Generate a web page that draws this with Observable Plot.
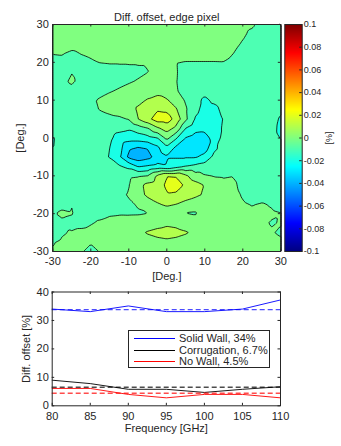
<!DOCTYPE html>
<html>
<head>
<meta charset="utf-8">
<script src="https://cdn.jsdelivr.net/npm/d3@7"></script>
<script src="https://cdn.jsdelivr.net/npm/@observablehq/plot@0.6"></script>
<style>
  body { margin: 0; background: #fff; }
  #wrap { position: relative; width: 341px; height: 446px; overflow: hidden; background: #fff;
          font-family: "Liberation Sans", Arial, Helvetica, sans-serif; }
  #wrap svg { position: absolute; left: 0; top: 0; }
  .legend { position: absolute; background: #fff; border: 1px solid #262626; box-sizing: border-box; }
  .legend .sw { position: absolute; height: 0; border-top: 1px solid; }
  .legend .lb { position: absolute; font-size: 11px; line-height: 12px; color: #262626; white-space: nowrap; }
</style>
</head>
<body>
<div id="wrap"></div>
<script>
// ---------------- data ----------------
const degTicks = [-30, -20, -10, 0, 10, 20, 30];
const gridX = [-30, -27.5, -25, -22.5, -20, -17.5, -15, -12.5, -10, -7.5, -5, -2.5, 0,
               2.5, 5, 7.5, 10, 12.5, 15, 17.5, 20, 22.5, 25, 27.5, 30];
const gridY = [30, 27.5, 25, 22.5, 20, 17.5, 15, 12.5, 10, 7.5, 5, 2.5, 0,
               -2.5, -5, -7.5, -10, -12.5, -15, -17.5, -20, -22.5, -25, -27.5, -30];
// diff. offset in units of 0.001 %, rows = gridY (top to bottom), columns = gridX
const offsetMilli = [
  [4,4,4,4,4,4,4,4,4,4,4,4,4,4,4,4,4,4,3,2.5,2,1,-3,-4,-4],
  [4,4,4,4,4,4,4,4,4,4,4,4,4,4,4,4,4,3.5,3,2.5,1,-1.5,-4,-4,-4],
  [3,3,3,3,3,3,3,3,3,3,3,3,3,3,3,3,3,3,3,1.5,-0.5,-3,-4,-4,-4],
  [0.3,0.5,-1,0.3,1,2,2.5,2.5,2.5,2.5,2.5,2.5,3,3,3,3,3,3,2,0.1,-2,-3,-4,-4,-4],
  [-1.5,-1.5,-2,-1.5,-0.7,0.2,0.5,0.5,0.5,0.5,0.5,1,1.5,0.2,-0.3,-0.3,-0.3,-0.3,-0.2,-1.5,-3,-4,-4,-4,-4],
  [-3,-2,-0.3,-2,-3,-3,-2.5,-2,-1.5,-1,-0.1,1,1.5,0.3,-2,-3,-3,-3,-2.5,-3,-3.5,-4,-4,-4,-4],
  [-3,-1.5,1,-2,-3,-3,-2.5,-1.5,-0.5,0.4,1.5,2,2,0.2,-2.5,-3.5,-4,-3.5,-3,-3,-3,-3,-3,-3,-3],
  [-3,-3,-2,-2.5,-2.5,-2,-0.5,0.6,1.5,3,4,5,4,0.5,-2.5,-4,-7,-4.5,-3.5,-3,-3,-3,-3,-3,-3],
  [-3,-3,-3,-2.5,-1,0.8,2,3,4,7,11,15,11,5,-1,-7,-12,-8,-5,-4,-3.5,-3.5,-3.5,-3.5,-3.5],
  [-3,-3,-3,-2.5,-1.5,0.3,1.5,2.5,4,12,16,19,18,11,1,-7,-14,-13,-7,-4.5,-4,-3.5,-3.5,-3.5,-4],
  [-3,-3,-3,-3,-3,-2.5,-1.5,-1,0.3,10,17,25,25,16,2,-11,-16,-17,-9,-5,-4,-4,-3.5,-4,-12],
  [-4,-3.5,-3.5,-3.5,-4,-5,-7,-8,-9,-5,-0.8,8,14,7,-10.5,-17,-18,-16,-8,-5,-4,-4,-4,-4.5,-14],
  [-11,-5,-4,-4,-5,-6,-8.5,-13,-15,-15,-13,-10.5,3,-9,-20.5,-24,-23,-17,-6,-5,-4,-4,-4,-5,-10.5],
  [-10.5,-5,-4,-4,-5,-7,-10,-16,-29,-30.5,-29,-22,-12,-22,-27,-28,-25,-12,-6,-4.5,-4,-4,-4,-4,-4],
  [-4,-4,-4,-4,-5,-7,-10.5,-18,-32,-36,-33,-26,-21,-21,-21,-21,-17,-7,-5,-4.5,-4,-4,-4,-4,-4],
  [-4,-4,-4,-4,-4.5,-5,-6,-9,-13,-21,-19,-17,-19,-14,-10,-7.5,-5.5,-4.5,-4,-4,-4,-4,-4,-4,-4],
  [-4,-4,-4,-4,-4,-4,-4.5,-3.5,-2,-1,0.5,12,19.5,19,12,4,0.5,-0.7,-1,-0.3,-2,-3,-4,-4,-4],
  [-4,-4,-4,-4,-4,-4,-3.5,-2.5,-0.5,7,13,15,22,25,18,14,9.5,5,3,1,-1.5,-3,-3.5,-4,-4],
  [-3.5,-3,-3,-3.5,-3.5,-3.5,-3,-1.5,0.5,6,12,15,19,18,16,13,8,5,3,1.5,-0.5,-2,-3,-3,-3],
  [-2.5,-1.5,-0.2,-2.5,-3,-3,-2.5,-2,-0.8,0.5,5,9,12,10,6,2,3.5,3,2.5,2,0.5,-0.3,0.5,-0.5,-2],
  [-0.5,1,0.3,-2,-2.5,-2,-0.8,-0.5,-0.6,-0.5,-0.2,1.5,3,2.5,-0.3,-0.5,2,2.5,3,3,2,1,1.5,0.8,0.2],
  [-2.5,-1,-2,-2,-0.5,1,2,2.5,3,3.5,4,6,8,7,4,3,3,3,3.5,3.5,3,2,1,-0.4,0.3],
  [-3,-0.5,0.5,1.5,2,2,2.5,3,4,7,11,13,14,13,11,7,4,3,3,3,3,2.5,2,0.5,-0.8],
  [-0.3,0.8,1.5,1.5,0.3,1.5,2.5,3,3.5,4,5,7,8,7,5,4,3.5,3,3,3,3,3,2.5,2,1],
  [0.5,1,1.5,0.3,-1,0.2,2,3,3,3,3,3,3,3,3,3,3,3,3,3,3,3,3,3,2]
];
const contourLevels = [-0.04, -0.03, -0.02, -0.01, 0, 0.01, 0.02];
const colorbarTicks = [-0.1, -0.08, -0.06, -0.04, -0.02, 0, 0.02, 0.04, 0.06, 0.08, 0.1];

const freq = [80, 85, 90, 95, 100, 105, 110];
const solidWall = [34, 33.1, 35.1, 33.1, 33.1, 34, 37.2];
const corrugation = [9, 7.8, 5.8, 5.8, 4.7, 5.8, 6.7];
const noWall = [6.1, 6.1, 4, 2.8, 4, 4, 2.8];
const seriesNames = ["Solid Wall, 34%", "Corrugation, 6.7%", "No Wall, 4.5%"];
const seriesMeans = [33.8, 6.5, 4.4];
const seriesColors = ["#0000ff", "#000000", "#ff0000"];
const freqTicks = [80, 85, 90, 95, 100, 105, 110];
const offsetTicks = [0, 10, 20, 30, 40];

// ---------------- helpers ----------------
function jet(t) {
  const c = v => Math.round(255 * Math.max(0, Math.min(1, v)));
  return `rgb(${c(1.5 - Math.abs(4 * t - 3))},${c(1.5 - Math.abs(4 * t - 2))},${c(1.5 - Math.abs(4 * t - 1))})`;
}
const W = 341, H = 446;
const font = '"Liberation Sans", Arial, Helvetica, sans-serif';
const ink = "#262626";
const tickLen = 2.5;
const wrap = document.getElementById("wrap");

const samples = [];
gridY.forEach((y, j) => gridX.forEach((x, k) => samples.push({x, y, v: offsetMilli[j][k] / 1000})));

// ---------------- top: contour map ----------------
const T = {left: 52.3, right: 280.3, top: 24, bottom: 251};
const tW = T.right - T.left, tH = T.bottom - T.top;
const topPlot = Plot.plot({
  width: W, height: H,
  marginLeft: T.left, marginRight: W - T.right, marginTop: T.top, marginBottom: H - T.bottom,
  style: {background: "white", fontFamily: font, fontSize: "11px", color: ink},
  x: {domain: [-30, 30], label: null},
  y: {domain: [-30, 30], label: null},
  color: {type: "linear", domain: [-0.1, 0.1], interpolate: jet},
  marks: [
    Plot.contour(samples, {x: "x", y: "y", fill: "v", interpolate: "barycentric",
      thresholds: contourLevels, stroke: "#000", strokeWidth: 0.8, strokeLinejoin: "round"}),
    Plot.frame({stroke: ink}),
    Plot.tickX(degTicks, {x: d => d, insetTop: tH - tickLen, stroke: ink}),
    Plot.tickX(degTicks, {x: d => d, insetBottom: tH - tickLen, stroke: ink}),
    Plot.tickY(degTicks, {y: d => d, insetRight: tW - tickLen, stroke: ink}),
    Plot.tickY(degTicks, {y: d => d, insetLeft: tW - tickLen, stroke: ink}),
    Plot.axisX(degTicks, {anchor: "bottom", tickSize: 0, tickPadding: 5.5, tickFormat: d => String(d), label: null, fill: ink}),
    Plot.axisY(degTicks, {anchor: "left", tickSize: 0, tickPadding: 4, tickFormat: d => String(d), label: null, fill: ink}),
    Plot.text(["Diff. offset, edge pixel"], {text: d => d, frameAnchor: "top", textAnchor: "middle", lineAnchor: "middle", dy: -7, fill: ink}),
    Plot.text(["[Deg.]"], {text: d => d, frameAnchor: "bottom", textAnchor: "middle", lineAnchor: "middle", dy: 25, fill: ink}),
    Plot.text(["[Deg.]"], {text: d => d, frameAnchor: "left", textAnchor: "middle", lineAnchor: "middle", dx: -32, rotate: -90, fill: ink})
  ]
});
wrap.appendChild(topPlot);

// ---------------- colorbar ----------------
const C = {left: 284.3, right: 301.7, top: 24, bottom: 251};
const cW = C.right - C.left;
const cbPlot = Plot.plot({
  width: W, height: H,
  marginLeft: C.left, marginRight: W - C.right, marginTop: C.top, marginBottom: H - C.bottom,
  style: {background: "none", fontFamily: font, fontSize: "9px", color: ink},
  x: {domain: [0, 1], axis: null},
  y: {domain: [-0.1, 0.1], label: null},
  color: {type: "linear", domain: [-0.1, 0.1], interpolate: jet},
  marks: [
    Plot.raster({x1: 0, x2: 1, y1: -0.1, y2: 0.1, fill: (x, y) => y, pixelSize: 1}),
    Plot.frame({stroke: ink}),
    Plot.tickY(colorbarTicks, {y: d => d, insetLeft: cW - tickLen, stroke: ink}),
    Plot.axisY(colorbarTicks, {anchor: "right", tickSize: 0, tickPadding: 1.5,
      tickFormat: d => String(d), label: null, fill: ink, fontSize: 9}),
    Plot.text(["[%]"], {text: d => d, frameAnchor: "right", textAnchor: "middle", lineAnchor: "middle", dx: 26.5, rotate: -90, fill: ink, fontSize: 9})
  ]
});
wrap.appendChild(cbPlot);

// ---------------- bottom: frequency plot ----------------
const B = {left: 51.7, right: 280, top: 291.5, bottom: 405.3};
const bW = B.right - B.left, bH = B.bottom - B.top;
const seriesValues = [solidWall, corrugation, noWall];
const lineMarks = [];
seriesValues.forEach((vals, i) => {
  const table = freq.map((f, j) => ({f, v: vals[j]}));
  lineMarks.push(Plot.ruleY([seriesMeans[i]], {y: d => d, stroke: seriesColors[i],
    strokeDasharray: "5,3", strokeWidth: 1.4, strokeOpacity: 0.7}));
  lineMarks.push(Plot.line(table, {x: "f", y: "v", stroke: seriesColors[i], strokeWidth: 0.9}));
});
const bottomPlot = Plot.plot({
  width: W, height: H,
  marginLeft: B.left, marginRight: W - B.right, marginTop: B.top, marginBottom: H - B.bottom,
  style: {background: "none", fontFamily: font, fontSize: "11px", color: ink},
  x: {domain: [80, 110], label: null},
  y: {domain: [0, 40], label: null},
  marks: [
    ...lineMarks,
    Plot.frame({stroke: ink}),
    Plot.tickX(freqTicks, {x: d => d, insetTop: bH - tickLen, stroke: ink}),
    Plot.tickX(freqTicks, {x: d => d, insetBottom: bH - tickLen, stroke: ink}),
    Plot.tickY(offsetTicks, {y: d => d, insetRight: bW - tickLen, stroke: ink}),
    Plot.tickY(offsetTicks, {y: d => d, insetLeft: bW - tickLen, stroke: ink}),
    Plot.axisX(freqTicks, {anchor: "bottom", tickSize: 0, tickPadding: 6.4, tickFormat: d => String(d), label: null, fill: ink}),
    Plot.axisY(offsetTicks, {anchor: "left", tickSize: 0, tickPadding: 3.4, tickFormat: d => String(d), label: null, fill: ink}),
    Plot.text(["Frequency [GHz]"], {text: d => d, frameAnchor: "bottom", textAnchor: "middle", lineAnchor: "middle", dy: 22.7, fill: ink}),
    Plot.text(["Diff. offset [%]"], {text: d => d, frameAnchor: "left", textAnchor: "middle", lineAnchor: "middle", dx: -25.7, rotate: -90, fill: ink})
  ]
});
wrap.appendChild(bottomPlot);

// ---------------- legend ----------------
const L = {left: 128, top: 330, width: 142, height: 37.5};
const legend = document.createElement("div");
legend.className = "legend";
Object.assign(legend.style, {left: L.left + "px", top: L.top + "px", width: L.width + "px", height: L.height + "px"});
const rowCenters = [7.7, 19.3, 30.7];
seriesNames.forEach((name, i) => {
  const sw = document.createElement("div");
  sw.className = "sw";
  Object.assign(sw.style, {left: "5px", width: "41px", top: (rowCenters[i] - 0.5) + "px", borderTopColor: seriesColors[i]});
  legend.appendChild(sw);
  const lb = document.createElement("div");
  lb.className = "lb";
  lb.textContent = name;
  Object.assign(lb.style, {left: "50px", top: (rowCenters[i] - 6.5) + "px"});
  legend.appendChild(lb);
});
wrap.appendChild(legend);
</script>
</body>
</html>
